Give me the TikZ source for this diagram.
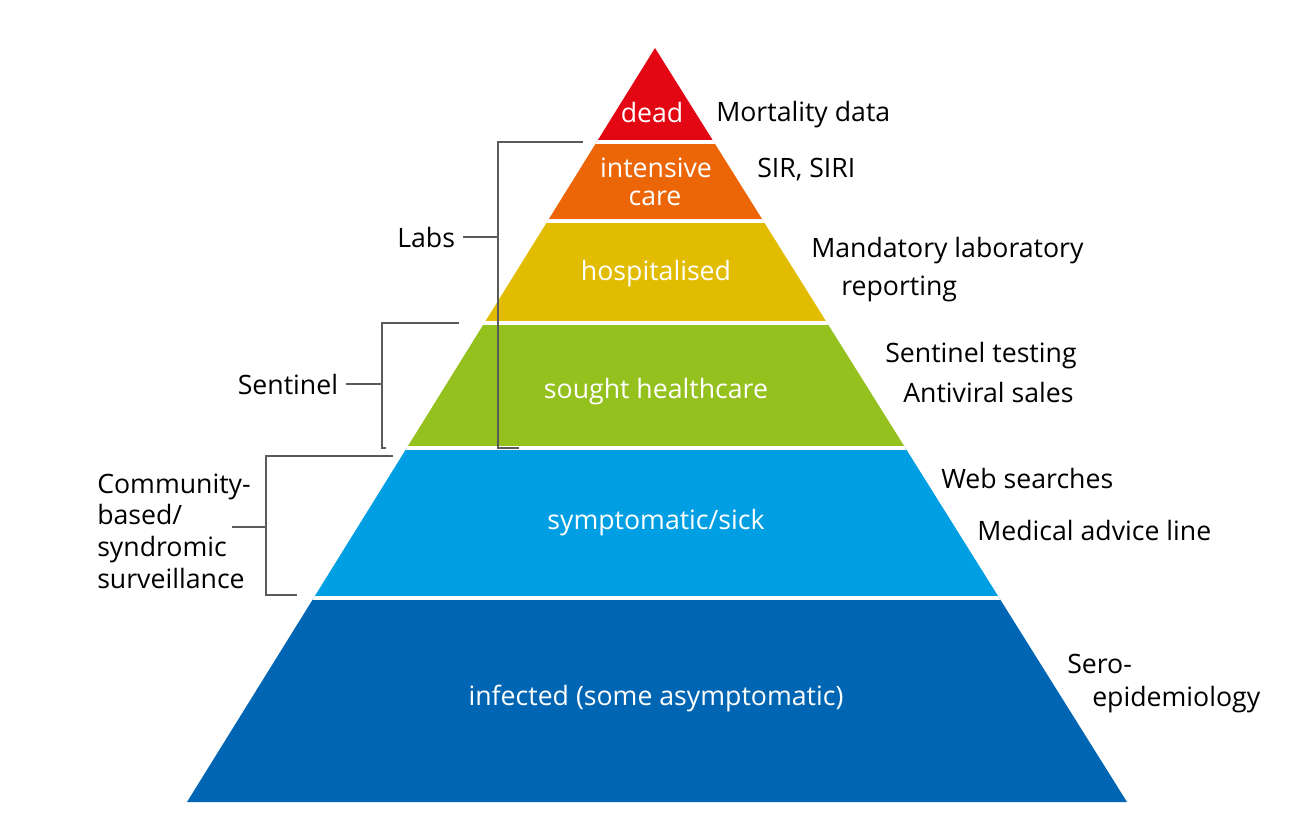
\documentclass[tikz,border=0pt]{standalone}
\usepackage{fontspec}
\setmainfont{Open Sans}
\usetikzlibrary{positioning}
\definecolor{BandDead}{HTML}{E30613}
\definecolor{BandCare}{HTML}{EC6608}
\definecolor{BandHosp}{HTML}{E2BC00}
\definecolor{BandSought}{HTML}{95C11F}
\definecolor{BandSick}{HTML}{009FE3}
\definecolor{BandInfected}{HTML}{0066B3}
\definecolor{LineGrey}{HTML}{5A5A5A}

\tikzset{
  bandlabel/.style={text=white, inner sep=0pt, anchor=base, font=\fontsize{20}{24}\selectfont},
  sidelabel/.style={inner sep=0pt, anchor=base west, font=\fontsize{20}{24}\selectfont},
  leftlabel/.style={inner sep=0pt, outer sep=6pt, anchor=base east, font=\fontsize{20}{24}\selectfont},
  bracket/.style={draw=LineGrey, line width=1.1pt}
}

\begin{document}
\begin{tikzpicture}[x=0.75pt, y=-0.75pt]
    \useasboundingbox (0,0) rectangle (1291,835);

    % pyramid bands
    \begin{scope}
      \clip (655,48) -- (1127,802) -- (187,802) -- cycle;
      \foreach \col/\ytop/\ybot in {BandDead/40/141, BandCare/141/221, BandHosp/221/323,
                                    BandSought/323/448, BandSick/448/598, BandInfected/598/810}
        \fill[\col] (150,\ytop) rectangle (1150,\ybot);
      \foreach \ycut in {141.5, 221, 323, 448, 598}
        \draw[white, line width=3pt] (150,\ycut) -- (1150,\ycut);
    \end{scope}

    % labels inside
    \node[bandlabel] (dead) at (652,122) {dead};
    \node[bandlabel] (care1) at (656,177) {intensive};
    \node[bandlabel] (care2) at (655,205) {care};
    \node[bandlabel] (hosp) at (656,280) {hospitalised};
    \node[bandlabel] (sought) at (656,398) {sought healthcare};
    \node[bandlabel] (sick) at (656,529) {symptomatic/sick};
    \node[bandlabel] (infected) at (656,705) {infected (some asymptomatic)};

    % data sources
    \node[sidelabel] (mortality) at (716,121) {Mortality data};
    \node[sidelabel] (sir) at (757,177) {SIR, SIRI};
    \node[sidelabel] (mandatory) at (811,257) {Mandatory laboratory};
    \node[sidelabel] (reporting) at (841,295) {reporting};
    \node[sidelabel] (testing) at (885,362) {Sentinel testing};
    \node[sidelabel] (antiviral) at (903,402) {Antiviral sales};
    \node[sidelabel] (web) at (941,488) {Web searches};
    \node[sidelabel] (advice) at (977,540) {Medical advice line};
    \node[sidelabel] (sero) at (1067,673) {Sero-};
    \node[sidelabel] (epi) at (1092,706) {epidemiology};

    % surveillance systems
    \node[leftlabel] (labs) at (463,247) {Labs};
    \node[leftlabel] (sentinel) at (346,394) {Sentinel};
    \node[inner sep=0pt, anchor=west, align=left, font=\fontsize{20}{23.8}\selectfont]
      (community) at (97,531) {Community-\\based/\\syndromic\\surveillance};

    % brackets
    \coordinate (labsTop) at (583,142);
    \coordinate (labsTL) at (498,142);
    \coordinate (labsBL) at (498,448);
    \coordinate (labsBot) at (519,448);
    \draw[bracket] (labsTop) -- (labsTL) -- (labsBL) -- (labsBot);
    \draw[bracket] (labs.east) -- (labs.east -| labsTL);

    \coordinate (sentTop) at (459,323);
    \coordinate (sentTL) at (382,323);
    \coordinate (sentBL) at (382,448);
    \coordinate (sentBot) at (386,448);
    \draw[bracket] (sentTop) -- (sentTL) -- (sentBL) -- (sentBot);
    \draw[bracket] (sentinel.east) -- (sentinel.east -| sentTL);

    \coordinate (commTop) at (393,456);
    \coordinate (commTL) at (266,456);
    \coordinate (commBL) at (266,595);
    \coordinate (commBot) at (297,595);
    \coordinate (commTick) at (232,527);
    \draw[bracket] (commTop) -- (commTL) -- (commBL) -- (commBot);
    \draw[bracket] (commTick) -- (commTick -| commTL);
  \end{tikzpicture}
\end{document}
